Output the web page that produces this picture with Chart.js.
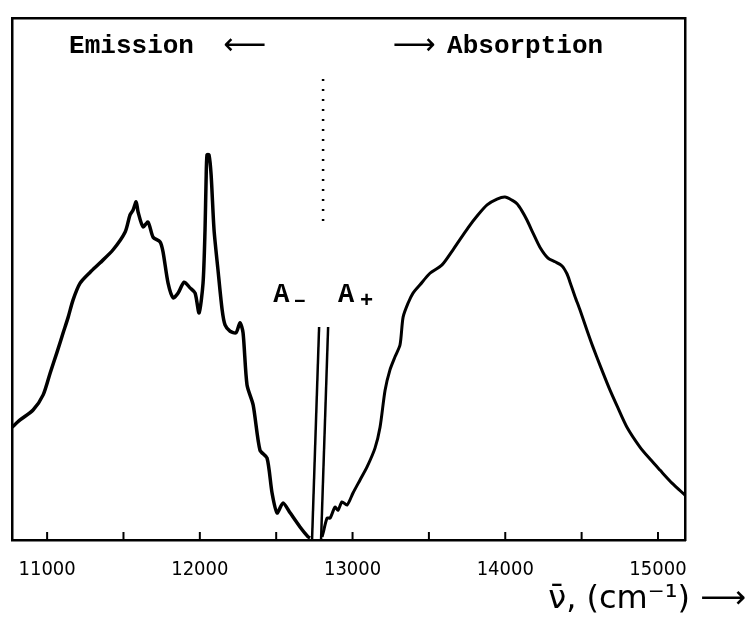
<!DOCTYPE html>
<html>
<head>
<meta charset="utf-8">
<script src="https://cdn.jsdelivr.net/npm/chart.js@4"></script>
<style>
  html, body { margin: 0; padding: 0; background: #fff; }
</style>
</head>
<body>
<canvas id="spectrum" width="749" height="622"></canvas>
<script>
// wavenumber (cm-1) / relative intensity
const emissionWavenumber = [10770, 10823, 10908, 10974, 11020, 11065, 11105, 11137, 11170, 11216,
  11282, 11347, 11432, 11511, 11543, 11563, 11583, 11596, 11628, 11661,
  11694, 11740, 11759, 11792, 11825, 11858, 11897, 11936, 11969, 11995,
  12021, 12034, 12041, 12047, 12060, 12074, 12093, 12119, 12146, 12165,
  12198, 12237, 12263, 12283, 12309, 12349, 12394, 12440, 12473, 12506,
  12545, 12591, 12656, 12709, 12722];
const emissionIntensity = [21.6, 23.0, 24.9, 27.8, 32.0, 36.0, 39.7, 42.6, 46.0, 49.2,
  51.3, 53.1, 55.6, 59.0, 62.3, 63.2, 64.8, 62.8, 60.0, 60.9,
  58.0, 57.1, 55.2, 49.2, 46.4, 47.3, 49.4, 48.3, 47.3, 43.5,
  49.2, 59.4, 69.0, 73.8, 73.8, 69.9, 59.4, 51.7, 44.1, 41.2,
  40.0, 39.7, 41.6, 39.7, 29.7, 25.9, 17.2, 15.7, 9.0, 5.2,
  7.1, 5.2, 2.5, 0.6, 0.4];

const absorptionWavenumber = [12800, 12807, 12833, 12853, 12885, 12905, 12931, 12964, 13003, 13049,
  13095, 13147, 13180, 13213, 13245, 13278, 13311, 13331, 13364, 13396,
  13442, 13507, 13586, 13658, 13756, 13822, 13881, 13946, 13998, 14044,
  14077, 14110, 14142, 14182, 14227, 14280, 14326, 14372, 14404, 14424,
  14457, 14489, 14535, 14574, 14620, 14686, 14738, 14797, 14882, 14948,
  15013, 15092, 15177];
const absorptionIntensity = [0.6, 1.3, 4.2, 4.2, 6.3, 5.7, 7.3, 6.7, 9.0, 11.5,
  14.0, 17.6, 21.6, 28.7, 32.6, 35.1, 37.4, 42.7, 45.4, 47.3,
  48.9, 51.1, 52.7, 55.6, 59.8, 62.3, 64.2, 65.3, 65.7, 65.1,
  64.4, 63.0, 61.3, 58.8, 56.1, 54.0, 53.3, 52.5, 51.0, 49.4,
  46.6, 44.1, 40.2, 37.0, 33.5, 28.7, 25.3, 21.6, 17.8, 15.5,
  13.4, 10.9, 8.6];

// the two narrow A- / A+ lines
const aMinusWavenumber = [12735, 12781];
const aMinusIntensity = [0.2, 40.8];
const aPlusWavenumber = [12794, 12840];
const aPlusIntensity = [0.2, 40.8];

// dotted divider between emission and absorption
const dividerWavenumber = [12807, 12807];
const dividerIntensity = [61.1, 89.8];

// axis ticks: every 500, labelled every 1000
const tickValues = [11000, 11500, 12000, 12500, 13000, 13500, 14000, 14500, 15000];
const tickLabels = ['11000', '', '12000', '', '13000', '', '14000', '', '15000'];

const xMin = 10770, xMax = 15177;

function pts(xs, ys) {
  return xs.map((x, i) => ({ x: x, y: ys[i] }));
}

const inkBits = {
  id: 'inkBits',
  afterDraw(chart) {
    const ctx = chart.ctx;
    const x = chart.scales.x, y = chart.scales.y;
    ctx.save();
    // tick marks point up into the plot
    ctx.strokeStyle = '#000';
    ctx.lineWidth = 2;
    x.ticks.forEach(t => {
      const px = x.getPixelForValue(t.value);
      ctx.beginPath();
      ctx.moveTo(px, y.bottom);
      ctx.lineTo(px, y.bottom - 8);
      ctx.stroke();
    });

    ctx.fillStyle = '#000';
    ctx.textBaseline = 'middle';
    const headY = y.getPixelForValue(94.6);
    ctx.font = 'bold 26px "Liberation Mono", "DejaVu Sans Mono", monospace';
    ctx.textAlign = 'left';
    ctx.fillText('Emission', x.getPixelForValue(11144), headY);
    ctx.fillText('Absorption', x.getPixelForValue(13619), headY);
    ctx.font = '30px "DejaVu Sans"';
    ctx.textAlign = 'center';
    ctx.fillText('⟵', x.getPixelForValue(12296), headY);
    ctx.fillText('⟶', x.getPixelForValue(13403), headY);

    // A- / A+ labels
    const aY = y.getPixelForValue(46.9);
    ctx.textAlign = 'left';
    ctx.font = 'bold 27px "Liberation Mono", "DejaVu Sans Mono", monospace';
    ctx.fillText('A', x.getPixelForValue(12480), aY);
    ctx.fillText('A', x.getPixelForValue(12905), aY);
    ctx.font = 'bold 22px "Liberation Mono", "DejaVu Sans Mono", monospace';
    ctx.fillText('–', x.getPixelForValue(12611), aY + 6);
    ctx.fillText('+', x.getPixelForValue(13049), aY + 6);

    // axis title
    ctx.font = '32px "DejaVu Sans"';
    ctx.textAlign = 'right';
    ctx.fillText('ν̄, (cm⁻¹) ⟶', 746, 600);
    ctx.restore();
  }
};

const lineStyle = { pointRadius: 0, borderColor: '#000', fill: false, tension: 0.25 };

new Chart(document.getElementById('spectrum'), {
  type: 'line',
  data: {
    datasets: [
      Object.assign({ data: pts(emissionWavenumber, emissionIntensity), borderWidth: 3.5 }, lineStyle),
      Object.assign({ data: pts(absorptionWavenumber, absorptionIntensity), borderWidth: 3 }, lineStyle),
      Object.assign({ data: pts(aMinusWavenumber, aMinusIntensity), borderWidth: 2.5 }, lineStyle, { tension: 0 }),
      Object.assign({ data: pts(aPlusWavenumber, aPlusIntensity), borderWidth: 2.5 }, lineStyle, { tension: 0 }),
      Object.assign({ data: pts(dividerWavenumber, dividerIntensity), borderWidth: 2.5, borderDash: [2, 8] }, lineStyle, { tension: 0 })
    ]
  },
  options: {
    responsive: false,
    animation: false,
    devicePixelRatio: 1,
    layout: { padding: { top: 18, left: 12, right: 64, bottom: 0 } },
    plugins: { legend: { display: false }, tooltip: { enabled: false } },
    scales: {
      x: {
        type: 'linear',
        position: 'bottom',
        min: xMin,
        max: xMax,
        grid: { display: false },
        border: { display: true, color: '#000', width: 2.5 },
        afterBuildTicks: s => { s.ticks = tickValues.map(v => ({ value: v })); },
        ticks: {
          autoSkip: false,
          maxRotation: 0,
          padding: 10,
          color: '#000',
          font: { family: '"Liberation Sans Narrow", "DejaVu Sans Condensed", sans-serif', size: 20 },
          callback: (v, i) => tickLabels[i]
        },
        afterFit: s => { s.height = 82; }
      },
      x2: {
        type: 'linear',
        position: 'top',
        min: xMin,
        max: xMax,
        grid: { display: false },
        ticks: { display: false },
        border: { display: true, color: '#000', width: 2.5 },
        afterFit: s => { s.height = 0; }
      },
      y: {
        min: 0,
        max: 100,
        grid: { display: false },
        ticks: { display: false },
        border: { display: true, color: '#000', width: 2.5 },
        afterFit: s => { s.width = 0; }
      },
      y2: {
        position: 'right',
        min: 0,
        max: 100,
        grid: { display: false },
        ticks: { display: false },
        border: { display: true, color: '#000', width: 2.5 },
        afterFit: s => { s.width = 0; }
      }
    }
  },
  plugins: [inkBits]
});
</script>
</body>
</html>
